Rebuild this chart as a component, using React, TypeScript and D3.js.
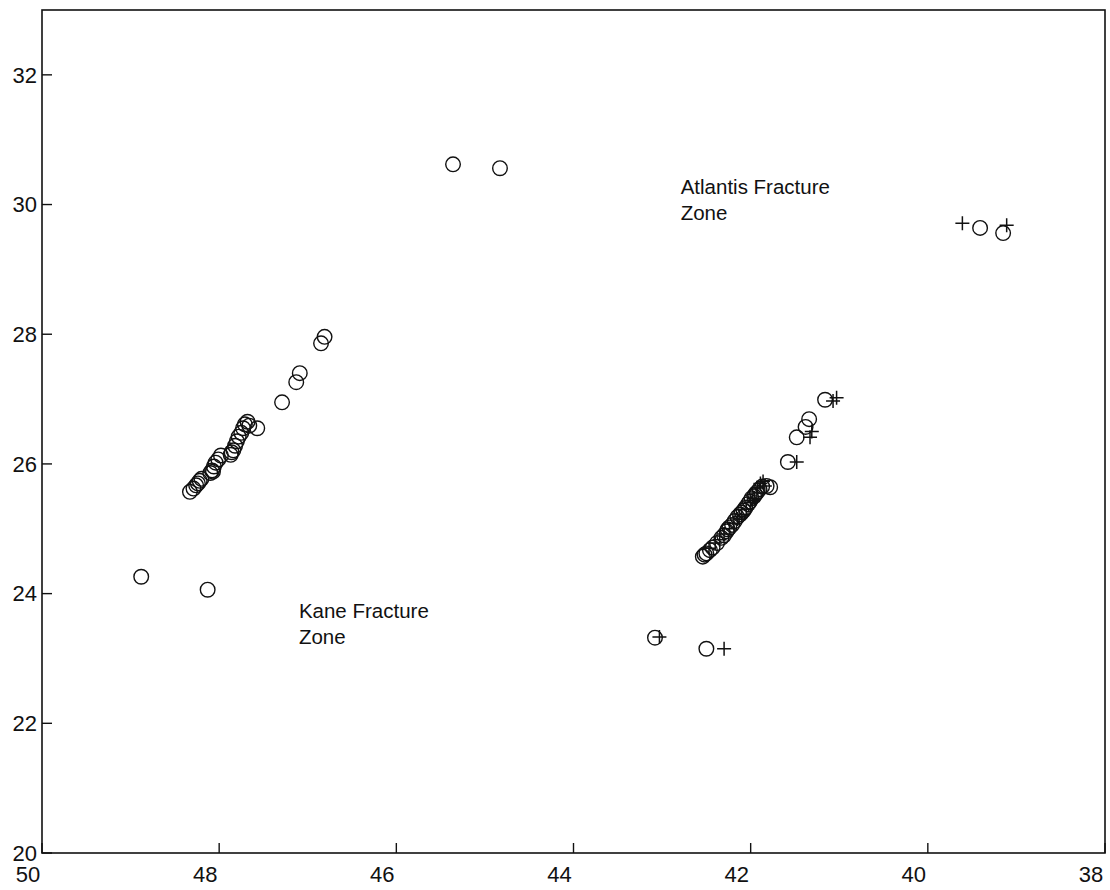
import React from "react";
import * as d3 from "d3";

const xTicks = [50, 48, 46, 44, 42, 40, 38];
const yTicks = [20, 22, 24, 26, 28, 30, 32];

// [longitude W, latitude N]
const circles: [number, number][] = [
  // isolated west
  [48.88, 24.26], [48.13, 24.06], [45.36, 30.62], [44.83, 30.56],
  [46.81, 27.96], [46.85, 27.86], [47.09, 27.40], [47.13, 27.26], [47.29, 26.95],
  // west cluster
  [48.33, 25.57], [48.29, 25.62], [48.26, 25.67], [48.22, 25.74], [48.20, 25.77],
  [48.10, 25.86], [48.08, 25.90], [48.06, 25.96], [48.04, 26.02], [48.01, 26.07],
  [47.98, 26.13], [47.87, 26.14], [47.84, 26.21], [47.82, 26.28], [47.80, 26.35],
  [47.78, 26.42], [47.75, 26.48], [47.73, 26.55], [47.71, 26.61], [47.68, 26.65],
  [47.66, 26.59], [47.57, 26.55], [47.86, 26.18], [48.07, 25.88], [48.24, 25.70],
  // east cluster
  [42.54, 24.57], [42.50, 24.62], [42.46, 24.67], [42.43, 24.71], [42.38, 24.78],
  [42.33, 24.86], [42.30, 24.90], [42.27, 24.96], [42.24, 25.02], [42.21, 25.06],
  [42.18, 25.12], [42.15, 25.18], [42.12, 25.22], [42.10, 25.25], [42.06, 25.32],
  [42.03, 25.38], [42.01, 25.42], [41.99, 25.47], [41.96, 25.50], [41.93, 25.56],
  [41.90, 25.61], [41.87, 25.65], [41.82, 25.66], [41.78, 25.64],
  [42.52, 24.60], [42.26, 24.99], [42.08, 25.28], [41.95, 25.53],
  [41.58, 26.03], [41.48, 26.41], [41.38, 26.57], [41.34, 26.69], [41.16, 26.99],
  [43.08, 23.32], [42.50, 23.15],
  [39.41, 29.64], [39.15, 29.56],
];

const crosses: [number, number][] = [
  [42.47, 24.70], [42.40, 24.78], [42.30, 24.92], [42.24, 25.00], [42.19, 25.08],
  [42.15, 25.15], [42.10, 25.22], [42.05, 25.30], [42.00, 25.40], [41.96, 25.47],
  [41.93, 25.55], [41.92, 25.63], [41.89, 25.70], [41.86, 25.73], [41.84, 25.66],
  [42.35, 24.83], [42.13, 25.19], [41.98, 25.44],
  [41.48, 26.03], [41.33, 26.41], [41.31, 26.50], [41.07, 26.97], [41.03, 27.02],
  [43.03, 23.33], [42.30, 23.15],
  [39.61, 29.71], [39.11, 29.68],
];

const labels = [
  { lines: ["Atlantis Fracture", "Zone"], lon: 42.79, lat: 30.17 },
  { lines: ["Kane Fracture", "Zone"], lon: 47.1, lat: 23.63 },
];

const W = 1110, H = 890;
const left = 42, right = 1105, top = 10, bottom = 853;

export default function App() {
  const x = d3.scaleLinear().domain([50, 38]).range([left, right]);
  const y = d3.scaleLinear().domain([20, 33]).range([bottom, top]);
  const font = "'Liberation Sans', Arial, Helvetica, sans-serif";
  const tl = 10;
  return (
    <svg width={W} height={H} style={{ position: "absolute", left: 0, top: 0, background: "#fff" }}>
      <rect x={left} y={top} width={right - left} height={bottom - top} fill="none" stroke="#111" strokeWidth={1.6} />
      {xTicks.map((t) => (
        <g key={"x" + t}>
          <line x1={x(t)} x2={x(t)} y1={bottom} y2={bottom - tl} stroke="#111" strokeWidth={1.4} />
          <text x={x(t) - 14} y={bottom + 29} textAnchor="middle" fontSize={22} fontFamily={font} fill="#111">{t}</text>
        </g>
      ))}
      {yTicks.map((t) => (
        <g key={"y" + t}>
          <line x1={left} x2={left + tl} y1={y(t)} y2={y(t)} stroke="#111" strokeWidth={1.4} />
          <text x={left - 5} y={y(t)} dy="0.35em" textAnchor="end" fontSize={22} fontFamily={font} fill="#111">{t}</text>
        </g>
      ))}
      {circles.map((d, i) => (
        <circle key={"c" + i} cx={x(d[0])} cy={y(d[1])} r={7.3} fill="none" stroke="#111" strokeWidth={1.4} />
      ))}
      {crosses.map((d, i) => (
        <path key={"p" + i} d={`M${x(d[0]) - 7},${y(d[1])}h14M${x(d[0])},${y(d[1]) - 7}v14`} stroke="#111" strokeWidth={1.5} fill="none" />
      ))}
      {labels.map((l, i) => (
        <text key={"l" + i} x={x(l.lon)} y={y(l.lat)} fontSize={20.5} fontFamily={font} fill="#111">
          {l.lines.map((s, j) => (
            <tspan key={j} x={x(l.lon)} dy={j === 0 ? 0 : 26}>{s}</tspan>
          ))}
        </text>
      ))}
    </svg>
  );
}
